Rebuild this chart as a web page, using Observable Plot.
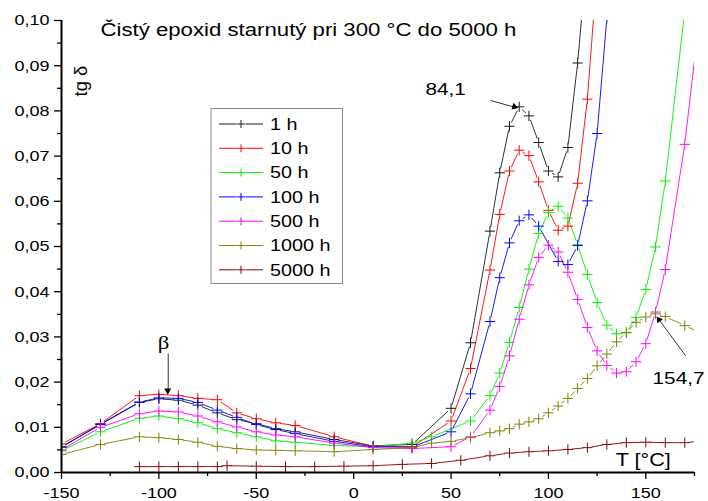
<!DOCTYPE html>
<html><head><meta charset="utf-8">
<script src="https://cdn.jsdelivr.net/npm/d3@7"></script>
<script src="https://cdn.jsdelivr.net/npm/@observablehq/plot@0.6"></script>
<style>
body{margin:0;background:#fff;font-family:Arial,"Liberation Sans",sans-serif}
</style>
</head><body><div id="chart"></div>
<script>
// ---- data ----
const seriesNames = ["1 h","10 h","50 h","100 h","500 h","1000 h","5000 h"];
const seriesColors = ["#1a1a1a","#ff0000","#00ee00","#0000ff","#ff00ff","#808000","#8b0000"];

const temp1h = [-150,-130,-110,-100,-90,-80,-70,-60,-50,-40,-30,-10,10,30,50,60,70,75,80,85,90,95,100,105,110,115,120];
const tan1h  = [0.0057,0.0106,0.0155,0.0163,0.0160,0.0149,0.0132,0.0117,0.0108,0.0097,0.0090,0.0073,0.0059,0.0062,0.0142,0.0287,0.0534,0.0663,0.0766,0.0809,0.0789,0.0730,0.0667,0.0654,0.0719,0.0906,0.1150];

const temp10h = [-150,-130,-110,-100,-90,-80,-70,-60,-50,-40,-30,-10,10,30,50,60,70,75,80,85,90,95,100,105,110,115,120,125];
const tan10h  = [0.0063,0.0108,0.0170,0.0173,0.0170,0.0164,0.0161,0.0132,0.0119,0.0110,0.0104,0.0079,0.0058,0.0057,0.0114,0.0230,0.0448,0.0571,0.0667,0.0713,0.0701,0.0643,0.0580,0.0536,0.0545,0.0640,0.0826,0.1110];

const temp50h = [-150,-130,-110,-100,-90,-80,-70,-60,-50,-40,-30,-10,10,30,40,60,70,75,80,85,90,95,100,105,110,115,120,125,130,135,140,145,150,155,160,170];
const tan50h  = [0.0048,0.0090,0.0120,0.0125,0.0119,0.0110,0.0097,0.0088,0.0079,0.0070,0.0067,0.0060,0.0057,0.0065,0.0079,0.0114,0.0170,0.0220,0.0288,0.0365,0.0450,0.0529,0.0575,0.0589,0.0563,0.0504,0.0438,0.0376,0.0326,0.0307,0.0309,0.0343,0.0405,0.0499,0.0645,0.1022];

const temp100h = [-150,-130,-110,-100,-90,-80,-70,-60,-50,-40,-30,-10,10,30,50,60,70,75,80,85,90,95,105,110,115,120,125,130];
const tan100h  = [0.0056,0.0107,0.0156,0.0165,0.0164,0.0155,0.0138,0.0122,0.0106,0.0095,0.0086,0.0069,0.0057,0.0056,0.0090,0.0174,0.0334,0.0431,0.0508,0.0557,0.0570,0.0545,0.0467,0.0460,0.0502,0.0601,0.0750,0.1005];

const temp500h = [-150,-130,-110,-100,-90,-80,-70,-60,-50,-40,-30,-10,10,30,50,60,70,75,80,85,90,95,100,105,110,115,120,125,130,135,140,145,150,155,160,170,180];
const tan500h  = [0.0050,0.0100,0.0130,0.0136,0.0134,0.0125,0.0112,0.0101,0.0090,0.0083,0.0079,0.0065,0.0055,0.0053,0.0057,0.0079,0.0138,0.0190,0.0258,0.0339,0.0415,0.0476,0.0503,0.0488,0.0443,0.0383,0.0321,0.0269,0.0237,0.0220,0.0223,0.0245,0.0285,0.0355,0.0449,0.0726,0.1100];

const temp1000h = [-150,-130,-110,-100,-90,-80,-70,-60,-50,-40,-30,-10,10,30,40,50,60,70,75,80,85,90,95,100,105,110,115,120,125,130,135,140,145,150,155,160,170,180];
const tan1000h  = [0.0040,0.0062,0.0079,0.0077,0.0073,0.0067,0.0058,0.0053,0.0050,0.0049,0.0048,0.0046,0.0051,0.0055,0.0065,0.0069,0.0077,0.0088,0.0092,0.0097,0.0107,0.0112,0.0119,0.0132,0.0147,0.0164,0.0186,0.0208,0.0236,0.0262,0.0289,0.0310,0.0332,0.0344,0.0351,0.0345,0.0325,0.0305];

const temp5000h = [-110,-100,-90,-80,-70,-65,-50,-35,-20,-5,10,25,40,55,70,80,90,100,110,120,130,140,150,160,170,180];
const tan5000h  = [0.0013,0.0013,0.0013,0.0013,0.0013,0.0015,0.0014,0.0013,0.0013,0.0014,0.0015,0.0018,0.0020,0.0027,0.0037,0.0043,0.0046,0.0048,0.0051,0.0055,0.0062,0.0066,0.0067,0.0066,0.0066,0.0070];

const xMajor = [-150,-100,-50,0,50,100,150];
const xMinor = [-125,-75,-25,25,75,125,175];
const yMajor = [0,0.01,0.02,0.03,0.04,0.05,0.06,0.07,0.08,0.09,0.10];
const yMinor = [0.005,0.015,0.025,0.035,0.045,0.055,0.065,0.075,0.085,0.095];

const titleText = "Čistý epoxid starnutý pri 300 °C do 5000 h";
const yLabel = "tg δ";
const xLabel = "T [°C]";
// annotations: label position, arrow start, arrow tip, head direction (deg, clockwise from up) and pixel offset of the head
const notes = [
  {text: "84,1", x: 47.2, y: 0.0848, ax1: 70.3, ay1: 0.0823, ax2: 82.8, ay2: 0.0808, rot: 106, hdx: -3.4, hdy: -1.0, serif: false},
  {text: "154,7", x: 166.8, y: 0.0209, ax1: 170.5, ay1: 0.0258, ax2: 157.0, ay2: 0.0337, rot: -36, hdx: 2.1, hdy: 2.8, serif: false},
  {text: "β", x: -97.6, y: 0.0287, ax1: -95.2, ay1: 0.0263, ax2: -95.2, ay2: 0.0180, rot: 180, hdx: 0, hdy: -3.5, serif: true}
];

// ---- build tables ----
const tempsBySeries = [temp1h,temp10h,temp50h,temp100h,temp500h,temp1000h,temp5000h];
const valsBySeries = [tan1h,tan10h,tan50h,tan100h,tan500h,tan1000h,tan5000h];
const rows = [];
const segs = [];
seriesNames.forEach((name, i) => {
  const ts = tempsBySeries[i], vs = valsBySeries[i];
  ts.forEach((t, j) => {
    rows.push({series: name, T: t, v: vs[j]});
    if (j > 0) segs.push({series: name, T1: ts[j-1], v1: vs[j-1], T2: t, v2: vs[j]});
  });
});

const fmtY = d => d.toFixed(2).replace(".", ",");
const SX = 1.2;
const sansNotes = notes.filter(d => !d.serif);
const serifNotes = notes.filter(d => d.serif);

const chart = Plot.plot({
  width: 708, height: 501,
  marginLeft: 61, marginRight: 14, marginTop: 20, marginBottom: 29,
  x: {domain: [-150, 175]},
  y: {domain: [0, 0.10]},
  color: {domain: seriesNames, range: seriesColors},
  style: {fontFamily: "Arial, 'Liberation Sans', sans-serif", fontSize: "15px", color: "#000", background: "#fff"},
  marks: [
    Plot.axisY({ticks: yMajor, tickSize: 7, tickPadding: 5, tickFormat: fmtY, label: null, strokeWidth: 1.3}),
    Plot.axisY({ticks: yMinor, tickSize: 4, tickFormat: () => "", label: null, strokeWidth: 1.3}),
    Plot.axisX({ticks: xMajor, tickSize: 7, tickPadding: 8, tickFormat: d => String(d), label: null, strokeWidth: 1.3}),
    Plot.axisX({ticks: xMinor, tickSize: 4, tickFormat: () => "", label: null, strokeWidth: 1.3}),
    // connecting lines with a small gap around each symbol (Origin style)
    Plot.arrow(segs, {x1: "T1", y1: "v1", x2: "T2", y2: "v2", stroke: "series", strokeWidth: 0.9, headLength: 0, inset: 4.5, clip: true}),
    Plot.dot(rows, {x: "T", y: "v", stroke: "series", symbol: "plus", r: 3.4, strokeWidth: 1, clip: true}),
    Plot.ruleY([0], {stroke: "#000", strokeWidth: 2}),
    Plot.ruleX([-150], {stroke: "#000", strokeWidth: 2}),
    Plot.text([titleText], {x: -130, y: 0.0979, text: d => d, textAnchor: "start", fontSize: 18.5}),
    Plot.text([yLabel], {x: -139.8, y: 0.0866, text: d => d, rotate: -90, fontSize: 18.5}),
    Plot.text([xLabel], {x: 148.7, y: 0.0027, text: d => d, fontSize: 18}),
    Plot.text(sansNotes, {x: "x", y: "y", text: "text", fontSize: 17.3}),
    Plot.text(serifNotes, {x: "x", y: "y", text: "text", fontSize: 19, fontFamily: "'Liberation Serif', 'DejaVu Serif', serif"}),
    Plot.link(notes, {x1: "ax1", y1: "ay1", x2: "ax2", y2: "ay2", stroke: "#000", strokeWidth: 0.8}),
    Plot.dot(notes, {x: "ax2", y: "ay2", dx: d => d.hdx, dy: d => d.hdy, symbol: "triangle", rotate: "rot", r: 2.6, fill: "#000", stroke: "none"})
  ]
});

// ---- legend ----
const svgSel = d3.select(chart);
const lg = svgSel.append("g").attr("aria-label", "legend");
const lx = 211, ly = 108.5, lw = 131.5, lh = 175;
lg.append("rect").attr("x", lx).attr("y", ly).attr("width", lw).attr("height", lh)
  .attr("fill", "#fff").attr("stroke", "#8a8a8a").attr("stroke-width", 1);
seriesNames.forEach((name, i) => {
  const cy = 124 + i * 24.3;
  const c = seriesColors[i];
  lg.append("path").attr("d", `M219,${cy}H236.5M245.5,${cy}H263`).attr("stroke", c).attr("stroke-width", 1).attr("fill", "none");
  lg.append("path").attr("d", `M${241-4},${cy}H${241+4}M241,${cy-4}V${cy+4}`).attr("stroke", c).attr("stroke-width", 1).attr("fill", "none");
  lg.append("text").attr("transform", `translate(270,${cy})`).attr("dy", "0.35em")
    .attr("text-anchor", "start").attr("font-size", 16.5).attr("fill", "#000").text(name);
});

// horizontal stretch of the horizontal texts, as in the reference
svgSel.selectAll("text").each(function() {
  const tr = this.getAttribute("transform") || "";
  if (tr.includes("rotate")) return;
  this.setAttribute("transform", `${tr} scale(${SX},1)`);
});

document.getElementById("chart").appendChild(chart);
</script>
</body></html>
